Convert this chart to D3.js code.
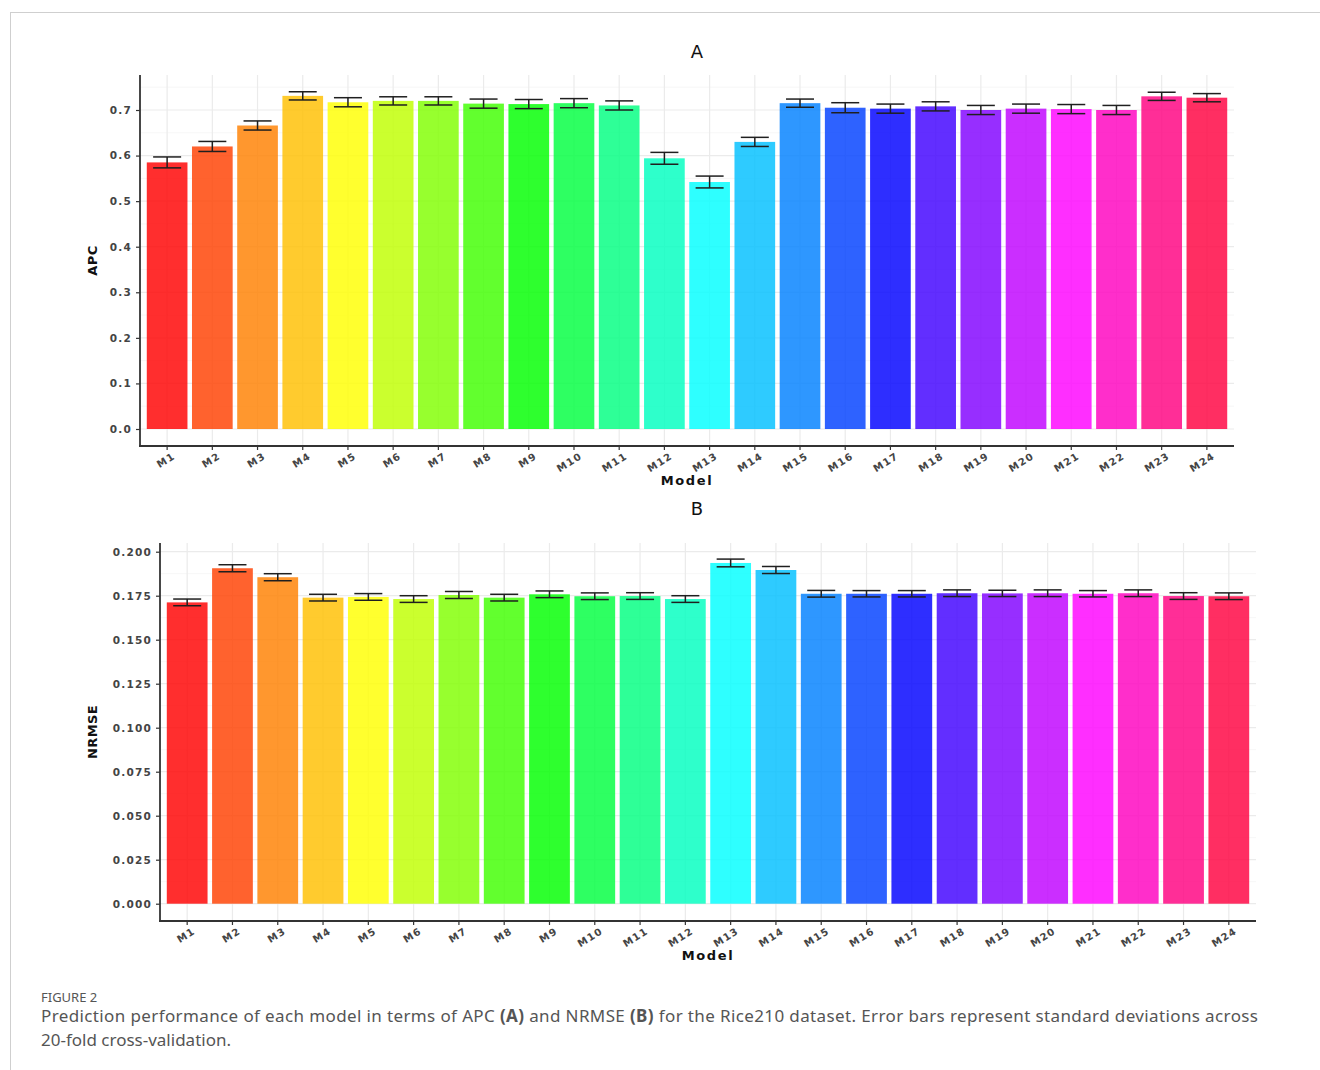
<!DOCTYPE html>
<html>
<head>
<meta charset="utf-8">
<script src="https://cdn.jsdelivr.net/npm/d3@7"></script>
<style>
  html, body { margin: 0; padding: 0; background: #fff; }
  svg { display: block; }
</style>
</head>
<body>
<svg id="fig" width="1320" height="1070"></svg>
<script>
// Model names shared by both panels
const models = ["M1","M2","M3","M4","M5","M6","M7","M8","M9","M10","M11","M12",
                "M13","M14","M15","M16","M17","M18","M19","M20","M21","M22","M23","M24"];

// Bar colours (rainbow palette, one hue per model)
const barColors = ["#FF0000","#FF4000","#FF8000","#FFBF00","#FFFF00","#BFFF00","#80FF00","#40FF00",
                   "#00FF00","#00FF40","#00FF80","#00FFBF","#00FFFF","#00BFFF","#0080FF","#0040FF",
                   "#0000FF","#4000FF","#8000FF","#BF00FF","#FF00FF","#FF00BF","#FF0080","#FF0040"];

// Panel A: mean APC and its standard deviation
const apcMean = [0.585,0.620,0.666,0.731,0.717,0.720,0.720,0.714,0.713,0.715,0.710,0.594,
                 0.542,0.630,0.715,0.705,0.703,0.708,0.700,0.703,0.702,0.700,0.730,0.727];
const apcSd   = [0.012,0.011,0.010,0.009,0.010,0.009,0.009,0.010,0.010,0.010,0.010,0.013,
                 0.013,0.010,0.009,0.011,0.010,0.010,0.010,0.010,0.010,0.010,0.009,0.009];
const apcTicks = [0.0,0.1,0.2,0.3,0.4,0.5,0.6,0.7];

// Panel B: mean NRMSE and its standard deviation
const nrmseMean = [0.1712,0.1906,0.1855,0.1739,0.1743,0.1731,0.1754,0.1739,0.1758,0.1747,0.1748,0.1731,
                   0.1936,0.1896,0.1761,0.1761,0.1761,0.1764,0.1763,0.1764,0.1761,0.1764,0.1748,0.1747];
const nrmseSd   = [0.0019,0.0020,0.0020,0.0019,0.0019,0.0019,0.0020,0.0019,0.0019,0.0019,0.0019,0.0019,
                   0.0022,0.0020,0.0019,0.0018,0.0018,0.0019,0.0018,0.0019,0.0018,0.0019,0.0019,0.0019];
const nrmseTicks = [0.000,0.025,0.050,0.075,0.100,0.125,0.150,0.175,0.200];

const svg = d3.select("#fig");
svg.append("rect").attr("width", 1320).attr("height", 1070).attr("fill", "#fff");

// page frame
svg.append("line").attr("x1", 10).attr("x2", 1320).attr("y1", 12.5).attr("y2", 12.5)
   .attr("stroke", "#cfcfcf").attr("stroke-width", 1);
svg.append("line").attr("x1", 10.5).attr("x2", 10.5).attr("y1", 12).attr("y2", 1070)
   .attr("stroke", "#cfcfcf").attr("stroke-width", 1);

function drawPanel(cfg) {
  const g = svg.append("g");
  const x = d3.scaleBand().domain(models).range([cfg.left, cfg.right])
              .paddingInner(0.1).paddingOuter(0.15);
  const y = d3.scaleLinear().domain([0, cfg.refVal]).range([cfg.zeroY, cfg.refY]);
  const yMax = y.invert(cfg.topY);

  // minor horizontal grid
  const minor = d3.range(cfg.ticks.length - 1).map(i => (cfg.ticks[i] + cfg.ticks[i + 1]) / 2)
                  .concat([cfg.ticks[cfg.ticks.length - 1] + (cfg.ticks[1] - cfg.ticks[0]) / 2])
                  .filter(v => v < yMax);
  g.append("g").selectAll("line").data(minor).join("line")
    .attr("x1", cfg.left).attr("x2", cfg.right)
    .attr("y1", d => y(d)).attr("y2", d => y(d))
    .attr("stroke", "#f4f4f4").attr("stroke-width", 0.8);

  // major horizontal grid
  g.append("g").selectAll("line").data(cfg.ticks).join("line")
    .attr("x1", cfg.left).attr("x2", cfg.right)
    .attr("y1", d => y(d)).attr("y2", d => y(d))
    .attr("stroke", "#ebebeb").attr("stroke-width", 1.2);

  // vertical grid
  g.append("g").selectAll("line").data(models).join("line")
    .attr("x1", d => x(d) + x.bandwidth() / 2).attr("x2", d => x(d) + x.bandwidth() / 2)
    .attr("y1", cfg.topY).attr("y2", cfg.axisY)
    .attr("stroke", "#ebebeb").attr("stroke-width", 1.2);

  // bars
  g.append("g").selectAll("rect").data(cfg.mean).join("rect")
    .attr("x", (d, i) => x(models[i]))
    .attr("width", x.bandwidth())
    .attr("y", d => y(d))
    .attr("height", d => y(0) - y(d))
    .attr("fill", (d, i) => barColors[i])
    .attr("fill-opacity", 0.82);

  // error bars
  const capW = 28;
  const eb = g.append("g").attr("stroke", "#1f1f1f").attr("stroke-width", 1.5).attr("fill", "none");
  cfg.mean.forEach((m, i) => {
    const cx = x(models[i]) + x.bandwidth() / 2;
    const lo = y(m - cfg.sd[i]), hi = y(m + cfg.sd[i]);
    eb.append("line").attr("x1", cx).attr("x2", cx).attr("y1", lo).attr("y2", hi);
    eb.append("line").attr("x1", cx - capW / 2).attr("x2", cx + capW / 2).attr("y1", hi).attr("y2", hi);
    eb.append("line").attr("x1", cx - capW / 2).attr("x2", cx + capW / 2).attr("y1", lo).attr("y2", lo);
  });

  // y axis
  const yAxis = d3.axisLeft(y).tickValues(cfg.ticks).tickFormat(d3.format(cfg.fmt))
                  .tickSize(4).tickPadding(4);
  const ya = g.append("g").attr("transform", `translate(${cfg.left},0)`).call(yAxis);
  ya.select(".domain").remove();
  ya.append("line").attr("x1", 0).attr("x2", 0).attr("y1", cfg.topY).attr("y2", cfg.axisY + 1)
    .attr("stroke", "#333").attr("stroke-width", 1.8);
  ya.selectAll(".tick line").attr("stroke", "#333").attr("stroke-width", 1.2);
  ya.selectAll(".tick text").attr("fill", "#444").style("font-family", "DejaVu Sans, sans-serif")
    .style("font-size", "10.5px").style("font-weight", "bold").style("letter-spacing", "1.2px");

  // x axis
  const xAxis = d3.axisBottom(x).tickSize(4).tickPadding(3);
  const xa = g.append("g").attr("transform", `translate(0,${cfg.axisY})`).call(xAxis);
  xa.select(".domain").remove();
  xa.append("line").attr("x1", cfg.left - 1).attr("x2", cfg.right).attr("y1", 0).attr("y2", 0)
    .attr("stroke", "#333").attr("stroke-width", 1.8);
  xa.selectAll(".tick line").attr("stroke", "#333").attr("stroke-width", 1.2);
  xa.selectAll(".tick text")
    .attr("fill", "#444")
    .style("font-family", "DejaVu Sans, sans-serif")
    .style("font-size", "10px")
    .style("font-weight", "bold")
    .style("letter-spacing", "1.2px")
    .attr("text-anchor", "end")
    .attr("dy", "0.35em")
    .attr("transform", "translate(7,9) rotate(-32)")
    .attr("y", 0).attr("x", 0);

  // titles
  g.append("text").attr("x", 697).attr("y", cfg.titleY).attr("text-anchor", "middle")
    .style("font-family", "DejaVu Sans, sans-serif").style("font-size", "18px").attr("fill", "#111")
    .text(cfg.title);
  g.append("text").attr("x", (cfg.left + cfg.right) / 2).attr("y", cfg.axisY + 39)
    .attr("text-anchor", "middle").style("font-family", "DejaVu Sans, sans-serif")
    .style("font-size", "13px").style("font-weight", "bold").style("letter-spacing", "1.6px")
    .attr("fill", "#111").text("Model");
  g.append("text")
    .attr("transform", `translate(97,${(cfg.topY + cfg.axisY) / 2}) rotate(-90)`)
    .attr("text-anchor", "middle").style("font-family", "DejaVu Sans, sans-serif")
    .style("font-size", "13px").style("font-weight", "bold").style("letter-spacing", "0.4px")
    .attr("fill", "#111").text(cfg.yLabel);
}

drawPanel({
  mean: apcMean, sd: apcSd, ticks: apcTicks, fmt: ".1f",
  left: 140, right: 1234, zeroY: 429, refVal: 0.7, refY: 110,
  topY: 75, axisY: 446, title: "A", titleY: 58, yLabel: "APC"
});

drawPanel({
  mean: nrmseMean, sd: nrmseSd, ticks: nrmseTicks, fmt: ".3f",
  left: 160, right: 1256, zeroY: 903.7, refVal: 0.2, refY: 551.7,
  topY: 543, axisY: 921, title: "B", titleY: 515, yLabel: "NRMSE"
});

// caption
const cap = svg.append("g").style("font-family", "Noto Sans, sans-serif").attr("fill", "#555");
cap.append("text").attr("x", 41).attr("y", 1002).style("font-size", "13px").text("FIGURE 2");
const l1 = cap.append("text").attr("x", 41).attr("y", 1022).style("font-size", "17px")
  .attr("textLength", 1217).attr("lengthAdjust", "spacing");
[["Prediction performance of each model in terms of APC ", false], ["(A)", true],
 [" and NRMSE ", false], ["(B)", true],
 [" for the Rice210 dataset. Error bars represent standard deviations across", false]]
  .forEach(([t, b]) => l1.append("tspan").style("font-weight", b ? "bold" : "normal").text(t));
cap.append("text").attr("x", 41).attr("y", 1046).style("font-size", "17px")
  .text("20-fold cross-validation.");
</script>
</body>
</html>
